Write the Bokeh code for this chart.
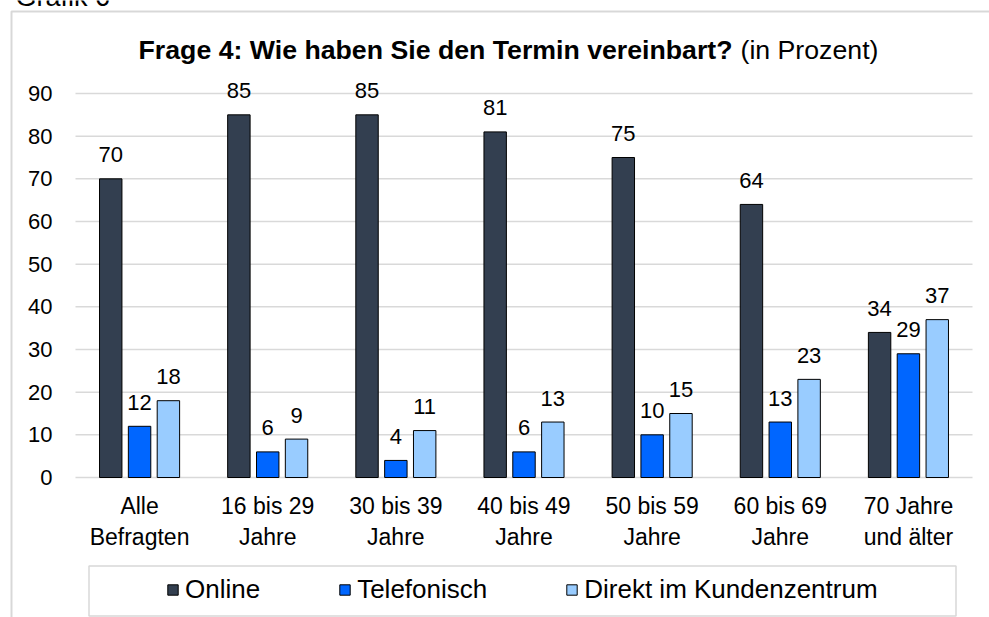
from bokeh.plotting import figure
from bokeh.models import (Range1d, FixedTicker, ColumnDataSource, Legend, LegendItem,
                          Label, BoxAnnotation)
from bokeh.transform import dodge
from bokeh.embed import file_html
from bokeh.resources import INLINE
from bokeh.core.properties import value

# ---------------- data ----------------
categories = ["Alle\nBefragten", "16 bis 29\nJahre", "30 bis 39\nJahre", "40 bis 49\nJahre",
              "50 bis 59\nJahre", "60 bis 69\nJahre", "70 Jahre\nund älter"]
online = [70, 85, 85, 81, 75, 64, 34]
telefonisch = [12, 6, 4, 6, 10, 13, 29]
direkt = [18, 9, 11, 13, 15, 23, 37]
series_names = ["Online", "Telefonisch", "Direkt im Kundenzentrum"]
y_ticks = [0, 10, 20, 30, 40, 50, 60, 70, 80, 90]
title_bold = "Frage 4: Wie haben Sie den Termin vereinbart?"
title_normal = "(in Prozent)"
caption = "Grafik 6"

# ---------------- layout ----------------
FONT = "Liberation Sans"
W, H = 989, 617
ZX, ZY = 75, 477                 # canvas px of x=0 / y=0
PX = (972 - 75) / len(categories)  # px per category
PY = (477 - 93) / 90.0           # px per percent


def fx(px):
    return (px - ZX) / PX


def fy(py):
    return (ZY - py) / PY


p = figure(width=W, height=H, x_range=Range1d(fx(0), fx(W)), y_range=Range1d(fy(H), fy(0)),
           output_backend="svg", toolbar_location=None, title=None,
           min_border=0, min_border_left=0, min_border_right=0,
           min_border_top=0, min_border_bottom=0)
p.outline_line_color = None
p.background_fill_color = "white"
p.border_fill_color = "white"
p.xgrid.visible = False
p.ygrid.visible = False

xs = [i + 0.5 for i in range(len(categories))]
src = ColumnDataSource(dict(
    x=xs,
    online=online, telefonisch=telefonisch, direkt=direkt,
    online_l=[str(v) for v in online],
    telefonisch_l=[str(v) for v in telefonisch],
    direkt_l=[str(v) for v in direkt],
))

# horizontal gridlines at the tick values, spanning the category area
grid_src = ColumnDataSource(dict(y=y_ticks))
p.segment(x0=0, x1=len(categories), y0="y", y1="y", source=grid_src,
          line_color="#D9D9D9", line_width=1.5)

colors = ["#333F50", "#0066FF", "#99CCFF"]
keys = ["online", "telefonisch", "direkt"]
offsets = [-0.225, 0.0, 0.225]

renderers = []
for key, color, off in zip(keys, colors, offsets):
    r = p.vbar(x=dodge("x", off), top=key, width=0.175, bottom=0, source=src,
               fill_color=color, line_color="black", line_width=1)
    renderers.append(r)
    p.text(x=dodge("x", off), y=key, text=key + "_l", source=src,
           text_align="center", text_baseline="alphabetic", y_offset=-24,
           text_font=value(FONT), text_font_size="22px", text_color="black")

# axes (fixed inside the frame)
p.yaxis.fixed_location = 0
p.yaxis.ticker = FixedTicker(ticks=y_ticks)
p.yaxis.axis_line_color = None
p.yaxis.major_tick_line_color = None
p.yaxis.minor_tick_line_color = None
p.yaxis.major_tick_in = 0
p.yaxis.major_tick_out = 0
p.yaxis.major_label_standoff = 23
p.yaxis.major_label_text_font = FONT
p.yaxis.major_label_text_font_size = "22px"
p.yaxis.major_label_text_color = "black"

p.xaxis.fixed_location = 0
p.xaxis.ticker = FixedTicker(ticks=xs)
p.xaxis.major_label_overrides = {x: c for x, c in zip(xs, categories)}
p.xaxis.axis_line_color = None
p.xaxis.major_tick_line_color = None
p.xaxis.minor_tick_line_color = None
p.xaxis.major_tick_in = 0
p.xaxis.major_tick_out = 0
p.xaxis.major_label_standoff = 15
p.xaxis.major_label_text_font = FONT
p.xaxis.major_label_text_font_size = "23px"
p.xaxis.major_label_text_color = "black"
p.xaxis.major_label_text_align = "center"

# outer chart border (left + top visible)
p.add_layout(BoxAnnotation(left=fx(11), right=fx(3000), top=fy(11), bottom=fy(3000),
                           fill_color=None, fill_alpha=0,
                           line_color="#7F7F7F", line_width=2))

# caption above the chart frame (mostly cut off, as in the original)
p.add_layout(Label(x=fx(15), y=fy(-3.5), text=caption, text_align="left",
                   text_baseline="alphabetic", text_font=FONT, text_font_size="27px",
                   text_color="black"))

# title
p.add_layout(Label(x=fx(732), y=fy(49), text=title_bold, text_align="right",
                   text_baseline="alphabetic", text_font=FONT, text_font_size="26.7px",
                   text_font_style="bold", text_color="black"))
p.add_layout(Label(x=fx(740), y=fy(49), text=title_normal, text_align="left",
                   text_baseline="alphabetic", text_font=FONT, text_font_size="26.7px",
                   text_color="black"))

# legend box
p.add_layout(BoxAnnotation(left=fx(88.5), right=fx(955.5), top=fy(565.5), bottom=fy(615.5),
                           fill_color=None, fill_alpha=0,
                           line_color="#7F7F7F", line_width=1.5))

legend = Legend(items=[LegendItem(label=n, renderers=[r]) for n, r in zip(series_names, renderers)],
                location=(166, 12), orientation="horizontal", padding=0, margin=0,
                spacing=78, glyph_width=13, glyph_height=13, label_standoff=6,
                label_text_font=FONT, label_text_font_size="26px", label_text_color="black",
                border_line_alpha=0, background_fill_alpha=0)
p.add_layout(legend, "center")

open("out.html", "w").write(file_html(p, INLINE))
